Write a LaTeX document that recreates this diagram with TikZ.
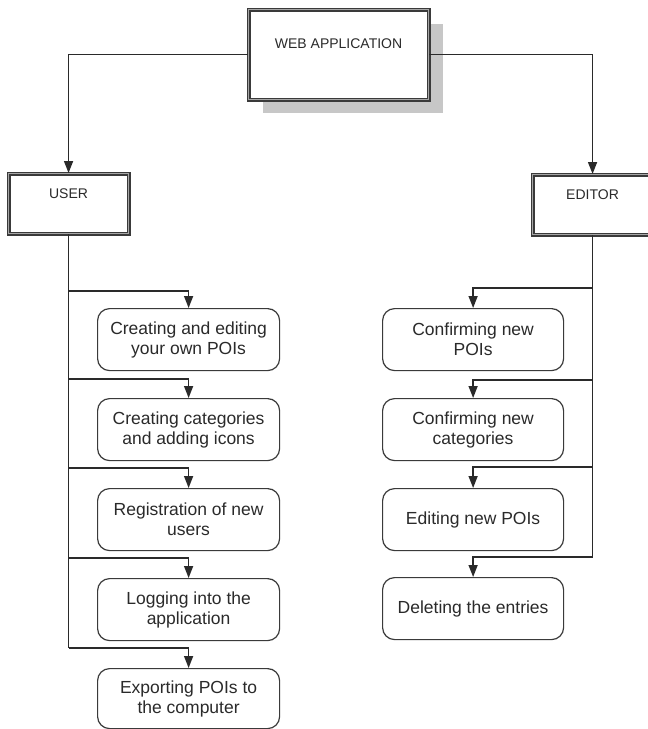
\documentclass[tikz,border=0pt]{standalone}
\usepackage{fontspec}
\setmainfont{Liberation Sans}
\usetikzlibrary{arrows.meta,calc}
\definecolor{ink}{HTML}{2A2A2A}
\definecolor{edge}{HTML}{3A3A3A}
\begin{document}
\begin{tikzpicture}[x=1pt,y=-1pt,
  line/.style={draw=ink,line width=1.6pt},
  arr/.style={line,-{Triangle[length=12pt,width=9pt]}},
  dbox/.style={draw=edge,double=black!35,double distance=1.8pt,line width=1.1pt,fill=white,
    inner sep=0pt,anchor=north west,text=ink,font=\fontsize{14}{17}\selectfont},
  rbox/.style={draw=edge,line width=1.2pt,rounded corners=12pt,fill=white,
    minimum width=182pt,minimum height=62pt,inner sep=2pt,anchor=north west,
    align=center,text=ink,font=\fontsize{17.5}{20}\selectfont}]
\useasboundingbox (0,0) rectangle (648,729);
\clip (0,0) rectangle (648,729);
\fill[white] (0,0) rectangle (648,729);
% shadow of top box
\fill[black!22] (263,24) rectangle (443,113);
\node[dbox,minimum width=180pt,text height=39pt,text depth=51pt] (web) at (248,9) {WEB APPLICATION};
\node[dbox,minimum width=120pt,text height=25pt,text depth=35pt] (user) at (8,173) {USER};
\node[dbox,minimum width=120pt,text height=25pt,text depth=35pt] (editor) at (532,174) {EDITOR};
% left column
\node[rbox] (L1) at (97,308) {Creating and editing\\your own POIs};
\node[rbox] (L2) at (97,398) {Creating categories\\and adding icons};
\node[rbox] (L3) at (97,488) {Registration of new\\users};
\node[rbox] (L4) at (97,578) {Logging into the\\application};
\node[rbox,minimum height=60pt] (L5) at (97,668) {Exporting POIs to\\the computer};
% right column
\node[rbox,minimum width=181pt] (R1) at (382,308) {Confirming new\\POIs};
\node[rbox,minimum width=181pt] (R2) at (382,398) {Confirming new\\categories};
\node[rbox,minimum width=181pt] (R3) at (382,488) {Editing new POIs};
\node[rbox,minimum width=181pt] (R4) at (382,577) {Deleting the entries};
% branch levels
\coordinate (hl1) at (0,291);
\coordinate (hl2) at (0,379);
\coordinate (hl3) at (0,468);
\coordinate (hl4) at (0,558);
\coordinate (hl5) at (0,648);
\coordinate (hr1) at (0,288);
\coordinate (hr2) at (0,380);
\coordinate (hr3) at (0,467);
\coordinate (hr4) at (0,557);
% connectors
\draw[arr] (web.west) -| (user.north);
\draw[arr] (web.east) -| (editor.north);
\draw[line] (user.south) -- (user.south |- hl5);
\foreach \i in {1,...,5} {\draw[arr] (user.south |- hl\i) -| (L\i.north);}
\draw[line] (editor.south) -- (editor.south |- hr4);
\foreach \i in {1,...,4} {\draw[arr] (editor.south |- hr\i) -| (R\i.north);}
\end{tikzpicture}
\end{document}
